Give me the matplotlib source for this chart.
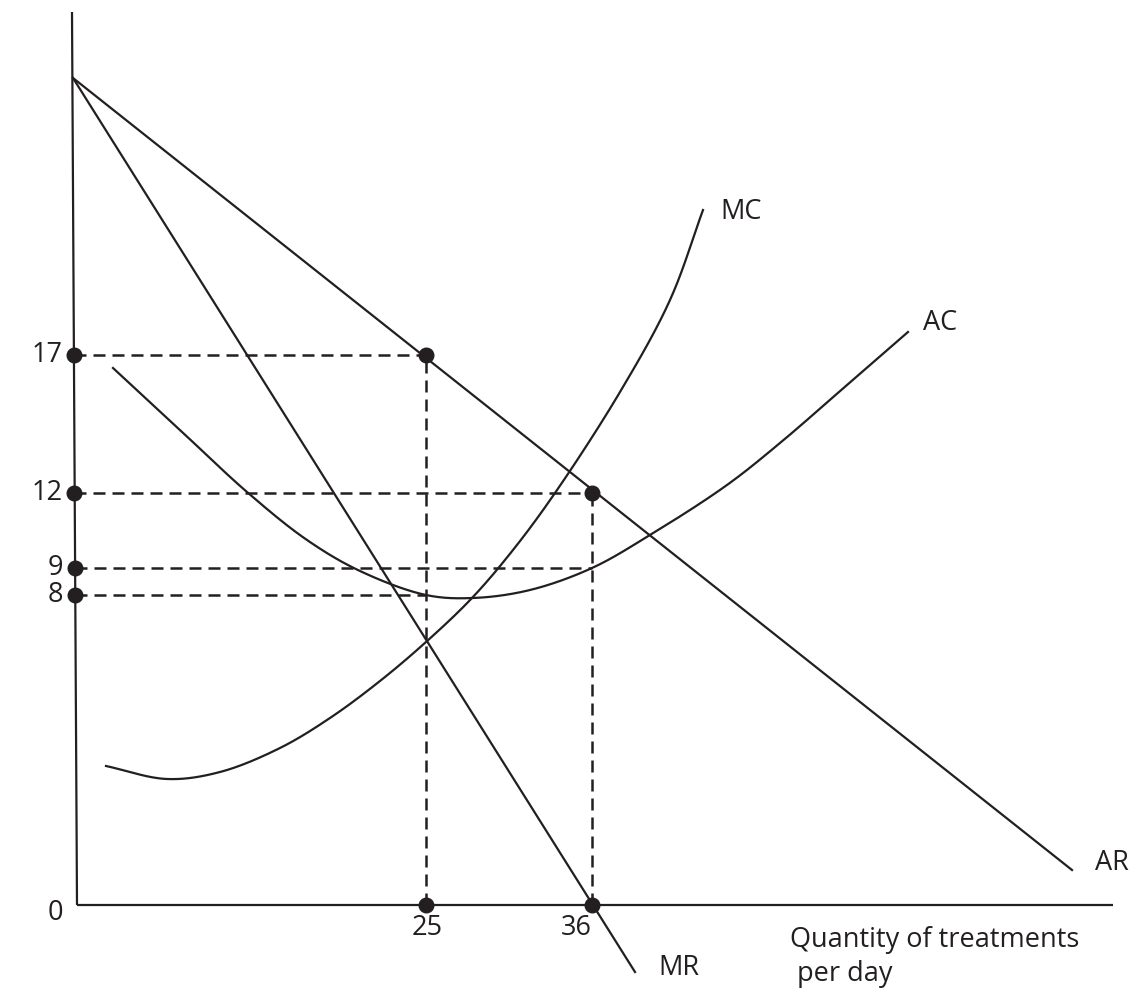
import matplotlib
matplotlib.use("Agg")
import matplotlib.pyplot as plt
import numpy as np

# ---- data (schematic diagram units: origin at the axes corner) ----
price_labels = ["17", "12", "9", "8"]
price_levels = [550, 412, 337, 310]
qty_labels = ["25", "36"]
qty_levels = [349, 515]

ar_x = [-4, 995]
ar_y = [827, 35]
mr_x = [-4, 558]
mr_y = [827, -67]

mc_x = [29, 90, 143, 203, 253, 303, 349, 395, 436, 478, 543, 593, 626]
mc_y = [139, 126, 133, 157, 187, 224, 263, 307, 355, 412, 513, 605, 695]

ac_x = [36, 103, 170, 230, 283, 349, 396, 453, 515, 573, 650, 703, 770, 831]
ac_y = [537, 475, 413, 365, 334, 310, 307, 315, 337, 370, 420, 462, 520, 573]

# price / quantity pairs for the marked points
mark_q = [349, 515, 349, 515]
mark_p = [550, 412, 310, 337]

INK = "#231f20"
FONT = ["Open Sans", "DejaVu Sans"]


def smooth_path(xs, ys, n=30, alpha=0.5):
    """Centripetal Catmull-Rom rendering through the read points (drawing only)."""
    p = np.column_stack([xs, ys]).astype(float)
    p = np.vstack([2 * p[0] - p[1], p, 2 * p[-1] - p[-2]])
    out = []
    for i in range(1, len(p) - 2):
        P0, P1, P2, P3 = p[i - 1], p[i], p[i + 1], p[i + 2]
        t0 = 0.0
        t1 = t0 + np.linalg.norm(P1 - P0) ** alpha
        t2 = t1 + np.linalg.norm(P2 - P1) ** alpha
        t3 = t2 + np.linalg.norm(P3 - P2) ** alpha
        t = np.linspace(t1, t2, n, endpoint=False)[:, None]
        A1 = (t1 - t) / (t1 - t0) * P0 + (t - t0) / (t1 - t0) * P1
        A2 = (t2 - t) / (t2 - t1) * P1 + (t - t1) / (t2 - t1) * P2
        A3 = (t3 - t) / (t3 - t2) * P2 + (t - t2) / (t3 - t2) * P3
        B1 = (t2 - t) / (t2 - t0) * A1 + (t - t0) / (t2 - t0) * A2
        B2 = (t3 - t) / (t3 - t1) * A2 + (t - t1) / (t3 - t1) * A3
        C = (t2 - t) / (t2 - t1) * B1 + (t - t1) / (t2 - t1) * B2
        out.append(C)
    out.append(p[-2][None, :])
    out = np.vstack(out)
    return out[:, 0], out[:, 1]


fig = plt.figure(figsize=(11.34, 9.96), dpi=100)
ax = fig.add_axes([0, 0, 1, 1])
ax.set_xlim(-77, 1057)
ax.set_ylim(-91, 905)
ax.axis("off")

lw = 1.6
# axes
ax.plot([-5, 0], [893, 0], color=INK, lw=lw, solid_capstyle="butt")
ax.plot([0, 1036], [0, 0], color=INK, lw=lw, solid_capstyle="butt")

# curves
ax.plot(ar_x, ar_y, color=INK, lw=lw)
ax.plot(mr_x, mr_y, color=INK, lw=lw)
ax.plot(*smooth_path(mc_x, mc_y), color=INK, lw=lw)
ax.plot(*smooth_path(ac_x, ac_y), color=INK, lw=lw)

# dashed guide lines
dash = dict(color=INK, lw=1.8, dashes=(4.8, 2.8))
ax.plot([-3, mark_q[0]], [mark_p[0], mark_p[0]], **dash)
ax.plot([mark_q[0], mark_q[0]], [0, mark_p[0]], **dash)
ax.plot([-3, mark_q[1]], [mark_p[1], mark_p[1]], **dash)
ax.plot([mark_q[1], mark_q[1]], [0, mark_p[1]], **dash)
ax.plot([-2, mark_q[3]], [mark_p[3], mark_p[3]], **dash)
ax.plot([-2, mark_q[2]], [mark_p[2], mark_p[2]], **dash)

# dots
dot = dict(marker="o", ms=10.5, color=INK, lw=0, zorder=5)
ax.plot([-3, -3, -2, -2], price_levels, **dot)
ax.plot(mark_q[:2], mark_p[:2], **dot)
ax.plot(qty_levels, [0, 0], **dot)

# tick labels
fs = 19.5
for lab, p in zip(price_labels, price_levels):
    ax.text(-14, p, lab, ha="right", va="center", fontsize=fs, family=FONT, color=INK)
ax.text(-22, -8, "0", ha="center", va="center", fontsize=fs, family=FONT, color=INK)
ax.text(qty_levels[0] + 1, -23, qty_labels[0], ha="center", va="center", fontsize=fs, family=FONT, color=INK)
ax.text(qty_levels[1] - 16, -23, qty_labels[1], ha="center", va="center", fontsize=fs, family=FONT, color=INK)

# curve labels
ax.text(643, 693, "MC", ha="left", va="center", fontsize=fs, family=FONT, color=INK)
ax.text(846, 582, "AC", ha="left", va="center", fontsize=fs, family=FONT, color=INK)
ax.text(1018, 42, "AR", ha="left", va="center", fontsize=fs, family=FONT, color=INK)
ax.text(581, -63, "MR", ha="left", va="center", fontsize=fs, family=FONT, color=INK)
ax.text(713, -35, "Quantity of treatments", ha="left", va="center",
        fontsize=fs, family=FONT, color=INK)
ax.text(720, -69, "per day", ha="left", va="center",
        fontsize=fs, family=FONT, color=INK)

fig.savefig("out.png", dpi=100)
